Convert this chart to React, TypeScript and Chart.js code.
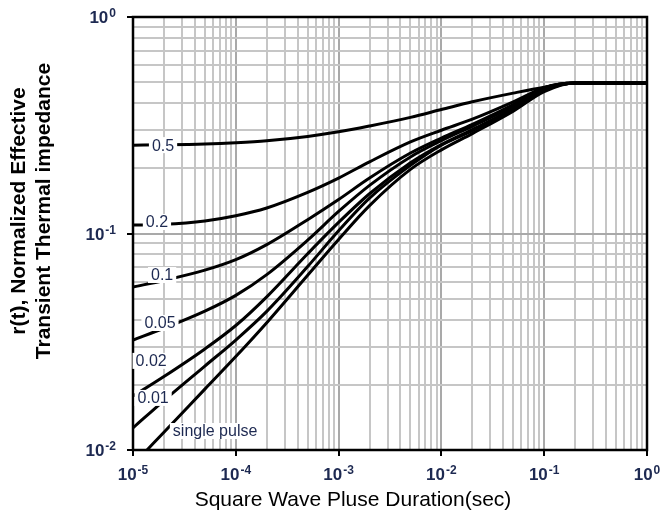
import { useEffect, useRef } from 'react';
import { Chart, registerables } from 'chart.js';

Chart.register(...registerables);

// ---- data ----
const durations = [1e-5, 2e-5, 5e-5, 1e-4, 2e-4, 5e-4, 1e-3, 2e-3, 5e-3, 1e-2, 2e-2, 5e-2, 1e-1, 2e-1, 1];
const duty05 = [0.2559, 0.2568, 0.2591, 0.2627, 0.2682, 0.2808, 0.2948, 0.3138, 0.3439, 0.3737, 0.4060, 0.4450, 0.4737, 0.4955, 0.4955];
const duty02 = [0.1094, 0.1102, 0.1143, 0.1208, 0.1312, 0.1549, 0.1803, 0.2143, 0.2649, 0.2999, 0.3373, 0.4055, 0.4721, 0.4955, 0.4955];
const duty01 = [0.0566, 0.0607, 0.0677, 0.0757, 0.0888, 0.1158, 0.1435, 0.1804, 0.2353, 0.2760, 0.3192, 0.3941, 0.4719, 0.4955, 0.4955];
const duty005 = [0.0322, 0.0365, 0.0438, 0.0518, 0.0646, 0.0932, 0.1264, 0.1668, 0.2258, 0.2685, 0.3127, 0.3860, 0.4686, 0.4955, 0.4955];
const duty002 = [0.01774, 0.02184, 0.02929, 0.03758, 0.05099, 0.08062, 0.1125, 0.1526, 0.2122, 0.2576, 0.3021, 0.3764, 0.4571, 0.4955, 0.4955];
const duty001 = [0.01265, 0.01692, 0.02442, 0.03221, 0.04368, 0.07037, 0.1030, 0.1457, 0.2064, 0.2559, 0.2979, 0.3712, 0.4571, 0.4955, 0.4955];
const singleDurations = [1.37e-5, 2e-5, 5e-5, 1e-4, 2e-4, 5e-4, 1e-3, 2e-3, 5e-3, 1e-2, 2e-2, 5e-2, 1e-1, 2e-1, 1];
const singlePulse = [0.01, 0.01208, 0.0191, 0.02701, 0.03873, 0.06412, 0.09385, 0.1345, 0.1977, 0.2434, 0.2894, 0.3674, 0.4522, 0.4955, 0.4955];

const curveLabels = ['0.5', '0.2', '0.1', '0.05', '0.02', '0.01', 'single pulse'];
const labelX = [1.96e-5, 1.71e-5, 1.92e-5, 1.83e-5, 1.50e-5, 1.57e-5, 6.29e-5];
const labelY = [0.256, 0.113, 0.0643, 0.0386, 0.0258, 0.0174, 0.01224];

const xTickExponents = [-5, -4, -3, -2, -1, 0];
const yTickExponents = [-2, -1, 0];
const significands = [1, 2, 3, 4, 5, 6, 7, 8, 9];

const xTitle = 'Square Wave Pluse Duration(sec)';
const yTitleLines = ['r(t), Normalized Effective', 'Transient Thermal impedance'];

const NAVY = '#1d2951';
const FONT = '"Liberation Sans", Arial, sans-serif';

function gridValues(exps: number[]) {
  const out: number[] = [];
  for (let i = 0; i < exps.length - 1; i++) {
    for (const s of significands) out.push(s * Math.pow(10, exps[i]));
  }
  out.push(Math.pow(10, exps[exps.length - 1]));
  return out;
}

function isMajor(v: number) {
  const l = Math.log10(v);
  return Math.abs(l - Math.round(l)) < 1e-6;
}

function drawPower(ctx: CanvasRenderingContext2D, exp: number, x: number, baseline: number, anchor: 'center' | 'right') {
  const base = '10';
  const sup = exp === 0 ? '0' : '-' + Math.abs(exp);
  ctx.font = `bold 17px ${FONT}`;
  const w1 = ctx.measureText(base).width;
  ctx.font = `bold 12px ${FONT}`;
  const w2 = ctx.measureText(sup).width;
  const total = w1 + w2 + 1;
  const start = anchor === 'center' ? x - total / 2 : x - total;
  ctx.fillStyle = NAVY;
  ctx.textAlign = 'left';
  ctx.textBaseline = 'alphabetic';
  ctx.font = `bold 17px ${FONT}`;
  ctx.fillText(base, start, baseline);
  ctx.font = `bold 12px ${FONT}`;
  ctx.fillText(sup, start + w1 + 1, baseline - 6);
}

const decorPlugin = {
  id: 'decor',
  afterDatasetsDraw(chart: any) {
    const { ctx, chartArea } = chart;
    const xs = chart.scales.x;
    const ys = chart.scales.y;
    ctx.save();
    ctx.strokeStyle = '#000';
    ctx.lineWidth = 2.5;
    ctx.strokeRect(chartArea.left, chartArea.top, chartArea.right - chartArea.left, chartArea.bottom - chartArea.top);
    ctx.font = `16px ${FONT}`;
    ctx.textAlign = 'center';
    ctx.textBaseline = 'middle';
    curveLabels.forEach((t, i) => {
      const cx = xs.getPixelForValue(labelX[i]);
      const cy = ys.getPixelForValue(labelY[i]);
      const w = ctx.measureText(t).width;
      ctx.fillStyle = '#fff';
      ctx.fillRect(cx - w / 2 - 3, cy - 8, w + 6, 16);
      ctx.fillStyle = NAVY;
      ctx.fillText(t, cx, cy + 1);
    });
    ctx.restore();
  },
  afterDraw(chart: any) {
    const { ctx, chartArea } = chart;
    const xs = chart.scales.x;
    const ys = chart.scales.y;
    ctx.save();
    xTickExponents.forEach((e) => {
      drawPower(ctx, e, xs.getPixelForValue(Math.pow(10, e)), chartArea.bottom + 30, 'center');
    });
    yTickExponents.forEach((e) => {
      drawPower(ctx, e, chartArea.left - 17, ys.getPixelForValue(Math.pow(10, e)) + 6, 'right');
    });
    ctx.fillStyle = '#000';
    ctx.font = `21px ${FONT}`;
    ctx.textAlign = 'center';
    ctx.textBaseline = 'middle';
    ctx.fillText(xTitle, 353, chartArea.bottom + 50);
    ctx.font = `bold 21px ${FONT}`;
    ctx.translate(0, 211);
    ctx.rotate(-Math.PI / 2);
    yTitleLines.forEach((t, i) => {
      ctx.fillText(t, 0, 19 + i * 25);
    });
    ctx.restore();
  },
};

export default function App() {
  const ref = useRef<HTMLCanvasElement | null>(null);
  useEffect(() => {
    if (!ref.current) return;
    const mk = (xsArr: number[], ysArr: number[], label: string) => ({
      label,
      data: xsArr.map((x, i) => ({ x, y: ysArr[i] })),
      borderColor: '#000',
      borderWidth: 3,
      pointRadius: 0,
      fill: false,
      cubicInterpolationMode: 'monotone' as const,
    });
    const gridColor = (ctx: any) => (ctx.tick && isMajor(ctx.tick.value) ? '#a9a9a9' : '#c6c6c6');
    const tickColor = (ctx: any) => (ctx.tick && isMajor(ctx.tick.value) ? '#000' : 'rgba(0,0,0,0)');
    const chart = new Chart(ref.current, {
      type: 'line',
      data: {
        datasets: [
          mk(durations, duty05, '0.5'),
          mk(durations, duty02, '0.2'),
          mk(durations, duty01, '0.1'),
          mk(durations, duty005, '0.05'),
          mk(durations, duty002, '0.02'),
          mk(durations, duty001, '0.01'),
          mk(singleDurations, singlePulse, 'single pulse'),
        ],
      },
      options: {
        animation: false,
        responsive: true,
        maintainAspectRatio: false,
        layout: { padding: { top: 17, right: 18, left: 0, bottom: 0 } },
        plugins: { legend: { display: false }, tooltip: { enabled: false } },
        scales: {
          x: {
            type: 'logarithmic',
            min: Math.pow(10, xTickExponents[0]),
            max: Math.pow(10, xTickExponents[xTickExponents.length - 1]),
            afterBuildTicks: (s: any) => {
              s.ticks = gridValues(xTickExponents).map((v) => ({ value: v, major: isMajor(v) }));
            },
            afterFit: (s: any) => {
              s.height = 64;
            },
            ticks: { display: false, autoSkip: false },
            grid: { color: gridColor, lineWidth: 2, tickColor, tickLength: 6, tickWidth: 2 },
            border: { display: false },
          },
          y: {
            type: 'logarithmic',
            min: Math.pow(10, yTickExponents[0]),
            max: Math.pow(10, yTickExponents[yTickExponents.length - 1]),
            afterBuildTicks: (s: any) => {
              s.ticks = gridValues(yTickExponents).map((v) => ({ value: v, major: isMajor(v) }));
            },
            afterFit: (s: any) => {
              s.width = 133;
            },
            ticks: { display: false, autoSkip: false },
            grid: { color: gridColor, lineWidth: 2, tickColor, tickLength: 6, tickWidth: 2 },
            border: { display: false },
          },
        },
      },
      plugins: [decorPlugin],
    });
    return () => chart.destroy();
  }, []);
  return (
    <div style={{ position: 'fixed', left: 0, top: 0, width: 665, height: 514, background: '#fff' }}>
      <canvas ref={ref} />
    </div>
  );
}
